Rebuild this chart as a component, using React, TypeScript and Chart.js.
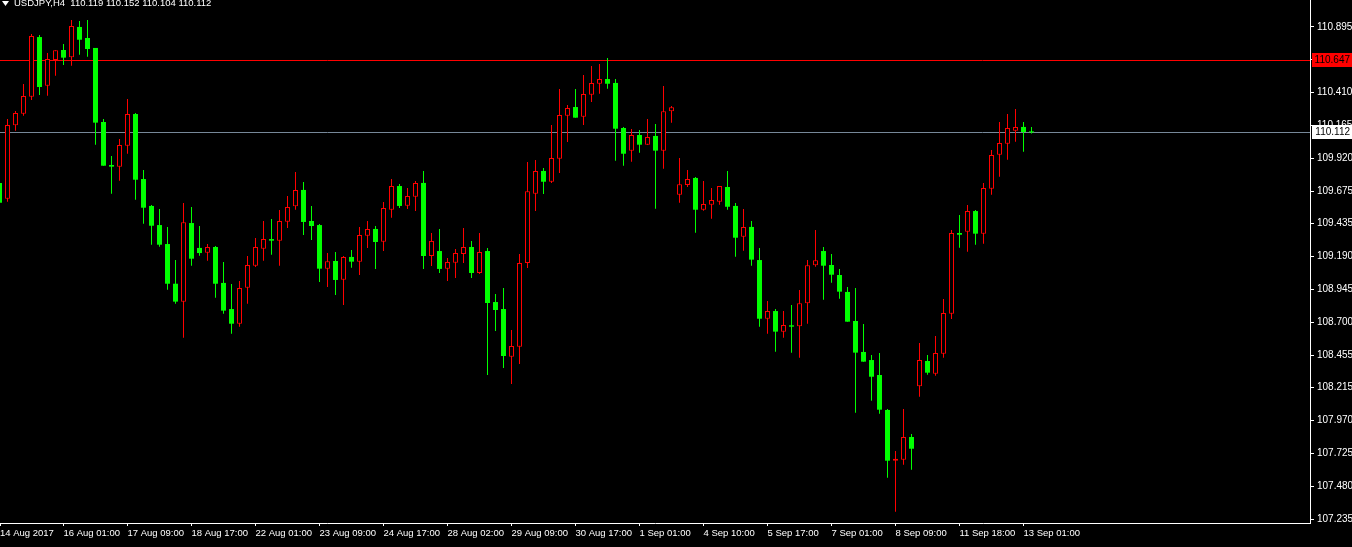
import React, { useEffect, useRef } from 'react';
import { Chart, registerables } from 'chart.js';

Chart.register(...registerables);

// ---- Data (H4 candles) ----
const opens = [
  109.736, 109.619, 110.164, 110.250, 110.377, 110.820, 110.459, 110.650, 110.724, 110.670,
  110.895, 110.813, 110.739, 110.189, 109.869, 109.857, 110.013, 110.248, 109.765, 109.565,
  109.423, 109.282, 108.987, 108.854, 109.438, 109.253, 109.218, 109.260, 108.993, 108.799,
  108.690, 108.958, 109.121, 109.247, 109.319, 109.307, 109.448, 109.562, 109.684, 109.453,
  109.423, 109.099, 109.156, 109.017, 109.186, 109.151, 109.344, 109.394, 109.299, 109.537,
  109.713, 109.567, 109.634, 109.736, 109.193, 109.230, 109.099, 109.143, 109.208, 109.260,
  109.067, 109.230, 108.851, 108.799, 108.445, 108.519, 109.141, 109.656, 109.825, 109.745,
  109.916, 110.236, 110.300, 110.228, 110.392, 110.473, 110.508, 110.479, 110.144, 109.976,
  110.092, 110.020, 110.085, 109.976, 110.268, 109.649, 109.721, 109.773, 109.537, 109.574,
  109.597, 109.706, 109.565, 109.336, 109.409, 109.163, 108.727, 108.784, 108.631, 108.678,
  108.671, 108.842, 109.124, 109.230, 109.126, 109.052, 108.926, 108.710, 108.480, 108.420,
  108.309, 108.049, 107.672, 107.680, 107.848, 108.225, 108.413, 108.318, 108.467, 108.764,
  109.364, 109.374, 109.527, 109.359, 109.693, 109.946, 110.028, 110.124, 110.152, 110.119,
];
const highs = [
  109.758, 110.211, 110.271, 110.471, 110.843, 110.835, 110.702, 110.722, 110.768, 110.947,
  110.939, 110.947, 110.739, 110.211, 109.936, 110.062, 110.360, 110.256, 109.832, 109.572,
  109.542, 109.409, 109.163, 109.587, 109.557, 109.416, 109.282, 109.267, 109.149, 108.985,
  109.007, 109.193, 109.327, 109.453, 109.468, 109.535, 109.639, 109.817, 109.743, 109.565,
  109.431, 109.215, 109.223, 109.193, 109.238, 109.409, 109.453, 109.416, 109.594, 109.765,
  109.728, 109.698, 109.750, 109.825, 109.364, 109.394, 109.178, 109.245, 109.401, 109.305,
  109.364, 109.253, 108.911, 108.955, 108.643, 109.208, 109.892, 109.906, 109.847, 110.167,
  110.434, 110.315, 110.434, 110.538, 110.605, 110.620, 110.664, 110.508, 110.152, 110.137,
  110.129, 110.211, 110.174, 110.456, 110.308, 109.921, 109.832, 109.780, 109.750, 109.698,
  109.713, 109.825, 109.587, 109.542, 109.453, 109.253, 108.859, 108.799, 108.784, 108.829,
  108.940, 109.163, 109.386, 109.260, 109.208, 109.097, 108.963, 108.955, 108.688, 108.457,
  108.472, 108.056, 107.744, 108.056, 107.870, 108.547, 108.457, 108.599, 108.874, 109.386,
  109.498, 109.572, 109.535, 109.736, 109.981, 110.189, 110.248, 110.285, 110.189, 110.152,
];
const lows = [
  109.572, 109.597, 110.124, 110.236, 110.352, 110.389, 110.384, 110.533, 110.612, 110.607,
  110.689, 110.674, 110.020, 109.864, 109.656, 109.753, 109.953, 109.611, 109.433, 109.277,
  109.262, 108.943, 108.839, 108.586, 109.121, 109.195, 109.158, 108.883, 108.764, 108.616,
  108.668, 108.839, 109.111, 109.158, 109.203, 109.121, 109.401, 109.537, 109.349, 109.312,
  109.000, 108.963, 108.903, 108.829, 109.106, 109.052, 109.253, 109.097, 109.230, 109.478,
  109.550, 109.542, 109.527, 109.097, 109.119, 109.067, 109.007, 109.030, 109.141, 109.030,
  109.059, 108.309, 108.636, 108.361, 108.242, 108.391, 109.104, 109.527, 109.654, 109.736,
  109.810, 110.040, 110.221, 110.167, 110.337, 110.399, 110.436, 109.901, 109.864, 109.894,
  109.961, 110.018, 109.545, 109.842, 110.184, 109.589, 109.706, 109.366, 109.530, 109.470,
  109.574, 109.537, 109.188, 109.233, 109.121, 108.668, 108.616, 108.482, 108.586, 108.475,
  108.437, 108.690, 109.114, 108.868, 108.995, 108.876, 108.705, 108.029, 108.408, 108.118,
  108.021, 107.546, 107.293, 107.642, 107.605, 108.148, 108.311, 108.304, 108.437, 108.725,
  109.255, 109.225, 109.277, 109.285, 109.649, 109.782, 109.909, 110.042, 109.968, 110.104,
];
const closes = [
  109.589, 110.167, 110.256, 110.382, 110.828, 110.449, 110.657, 110.722, 110.667, 110.902,
  110.800, 110.731, 110.184, 109.864, 109.857, 110.018, 110.248, 109.760, 109.552, 109.418,
  109.277, 108.987, 108.854, 109.444, 109.173, 109.215, 109.260, 108.987, 108.787, 108.690,
  108.955, 109.126, 109.260, 109.319, 109.307, 109.453, 109.557, 109.684, 109.446, 109.416,
  109.099, 109.154, 109.015, 109.186, 109.151, 109.349, 109.394, 109.297, 109.550, 109.713,
  109.565, 109.639, 109.736, 109.193, 109.305, 109.097, 109.149, 109.215, 109.260, 109.067,
  109.223, 108.844, 108.792, 108.450, 108.524, 109.141, 109.674, 109.825, 109.745, 109.921,
  110.241, 110.293, 110.221, 110.397, 110.479, 110.508, 110.473, 110.139, 109.953, 110.092,
  110.020, 110.077, 109.976, 110.268, 110.298, 109.726, 109.765, 109.537, 109.580, 109.609,
  109.713, 109.559, 109.329, 109.409, 109.166, 108.727, 108.784, 108.631, 108.680, 108.668,
  108.842, 109.124, 109.161, 109.121, 109.054, 108.928, 108.705, 108.475, 108.408, 108.296,
  108.051, 107.672, 107.687, 107.848, 107.761, 108.420, 108.326, 108.472, 108.770, 109.364,
  109.351, 109.527, 109.359, 109.698, 109.944, 110.033, 110.144, 110.152, 110.114, 110.112,
];

const xTickIndex = [0, 8, 16, 24, 32, 40, 48, 56, 64, 72, 80, 88, 96, 104, 112, 120, 128];
const xTickLabels = [
  '14 Aug 2017', '16 Aug 01:00', '17 Aug 09:00', '18 Aug 17:00', '22 Aug 01:00', '23 Aug 09:00',
  '24 Aug 17:00', '28 Aug 02:00', '29 Aug 09:00', '30 Aug 17:00', '1 Sep 01:00', '4 Sep 10:00',
  '5 Sep 17:00', '7 Sep 01:00', '8 Sep 09:00', '11 Sep 18:00', '13 Sep 01:00',
];
const yTickValues = [
  110.895, 110.65, 110.41, 110.165, 109.92, 109.675, 109.435, 109.19, 108.945, 108.7,
  108.455, 108.215, 107.97, 107.725, 107.48, 107.235,
];

const symbolTitle = 'USDJPY,H4';
const lastQuote = [110.119, 110.152, 110.104, 110.112];
const levelLine = 110.647;
const bidLine = 110.112;

// ---- view ----
const X_MIN = 0.0625;
const X_MAX = 163.8125;
const Y_MIN = 107.2091;
const Y_MAX = 111.0953;

const UP_COLOR = '#ff0000';
const DOWN_COLOR = '#00ff00';
const FONT = "'Liberation Sans Narrow', 'Liberation Sans', Arial, sans-serif";

export default function App() {
  const ref = useRef<HTMLCanvasElement | null>(null);

  useEffect(() => {
    document.body.style.margin = '0';
    document.body.style.background = '#000';
    const canvas = ref.current;
    if (!canvas) return;

    const idx = opens.map((_, i) => i);
    const up = idx.filter((i) => closes[i] >= opens[i]);
    const down = idx.filter((i) => closes[i] < opens[i]);

    const overlay = {
      id: 'mtOverlay',
      beforeDatasetsDraw(chart: any) {
        const { ctx, chartArea, scales } = chart;
        ctx.save();
        const lines: [number, string][] = [
          [bidLine, '#778899'],
          [levelLine, '#ff0000'],
        ];
        for (const [v, c] of lines) {
          const py = Math.round(scales.y.getPixelForValue(v)) + 0.5;
          ctx.strokeStyle = c;
          ctx.lineWidth = 1;
          ctx.beginPath();
          ctx.moveTo(chartArea.left, py);
          ctx.lineTo(chartArea.right, py);
          ctx.stroke();
        }
        ctx.restore();
      },
      afterDraw(chart: any) {
        const { ctx, chartArea, scales, width } = chart;
        ctx.save();
        const boxes: [number, string, string][] = [
          [levelLine, '#ff0000', '#000000'],
          [bidLine, '#ffffff', '#000000'],
        ];
        for (const [v, bg, fg] of boxes) {
          const py = Math.round(scales.y.getPixelForValue(v));
          ctx.fillStyle = bg;
          ctx.fillRect(chartArea.right + 2, py - 7, width - chartArea.right - 2, 14);
          ctx.fillStyle = fg;
          ctx.font = `10px ${FONT}`;
          ctx.textBaseline = 'middle';
          ctx.textAlign = 'right';
          ctx.fillText(v.toFixed(3), width - 2, py + 0.5);
        }
        // title
        ctx.fillStyle = '#ffffff';
        ctx.beginPath();
        ctx.moveTo(2, 1);
        ctx.lineTo(9, 1);
        ctx.lineTo(5.5, 6);
        ctx.closePath();
        ctx.fill();
        ctx.font = `9.5px ${FONT}`;
        ctx.textBaseline = 'alphabetic';
        ctx.textAlign = 'left';
        ctx.fillText(
          `${symbolTitle}  ${lastQuote.map((q) => q.toFixed(3)).join(' ')}`,
          14,
          6
        );
        ctx.restore();
      },
    };

    const chart = new Chart(canvas, {
      type: 'bar',
      data: {
        datasets: [
          {
            label: 'up body',
            data: up.map((i) => ({ x: i, y: [opens[i], closes[i]] })),
            backgroundColor: '#000000',
            borderColor: UP_COLOR,
            borderWidth: 1,
            borderSkipped: false,
            barThickness: 5,
            minBarLength: 1,
            grouped: false,
            inflateAmount: 0,
            order: 0,
          } as any,
          {
            label: 'down body',
            data: down.map((i) => ({ x: i, y: [opens[i], closes[i]] })),
            backgroundColor: DOWN_COLOR,
            borderWidth: 0,
            borderSkipped: false,
            barThickness: 5,
            minBarLength: 1,
            grouped: false,
            inflateAmount: 0,
            order: 0,
          } as any,
          {
            label: 'up wick',
            data: up.map((i) => ({ x: i, y: [lows[i], highs[i]] })),
            backgroundColor: UP_COLOR,
            borderWidth: 0,
            barThickness: 1,
            grouped: false,
            inflateAmount: 0,
            order: 1,
          } as any,
          {
            label: 'down wick',
            data: down.map((i) => ({ x: i, y: [lows[i], highs[i]] })),
            backgroundColor: DOWN_COLOR,
            borderWidth: 0,
            barThickness: 1,
            grouped: false,
            inflateAmount: 0,
            order: 1,
          } as any,
        ],
      },
      options: {
        responsive: false,
        animation: false,
        events: [],
        layout: { padding: 0 },
        plugins: {
          legend: { display: false },
          tooltip: { enabled: false },
          title: { display: false },
        },
        scales: {
          x: {
            type: 'linear',
            min: X_MIN,
            max: X_MAX,
            offset: false,
            bounds: 'data',
            grid: {
              drawOnChartArea: false,
              drawTicks: true,
              tickLength: 3,
              color: '#ffffff',
              tickColor: '#ffffff',
              offset: false,
            },
            border: { display: true, color: '#ffffff', width: 1 },
            ticks: {
              autoSkip: false,
              maxRotation: 0,
              minRotation: 0,
              align: 'start',
              padding: 2,
              color: '#ffffff',
              font: { family: FONT, size: 9.5 },
              callback: (_v: any, index: number) => xTickLabels[index],
            },
            afterBuildTicks: (scale: any) => {
              scale.ticks = xTickIndex.map((i) => ({ value: Math.max(i, X_MIN) }));
            },
            afterFit: (scale: any) => {
              scale.height = 24;
              scale.paddingLeft = 0;
              scale.paddingRight = 0;
            },
          } as any,
          y: {
            type: 'linear',
            position: 'right',
            min: Y_MIN,
            max: Y_MAX,
            bounds: 'data',
            grid: {
              drawOnChartArea: false,
              drawTicks: true,
              tickLength: 4,
              color: '#ffffff',
              tickColor: '#ffffff',
            },
            border: { display: true, color: '#ffffff', width: 1 },
            ticks: {
              autoSkip: false,
              padding: 3,
              color: '#ffffff',
              font: { family: FONT, size: 10 },
              callback: (v: any) => Number(v).toFixed(3),
            },
            afterBuildTicks: (scale: any) => {
              scale.ticks = yTickValues.map((v) => ({ value: v }));
            },
            afterFit: (scale: any) => {
              scale.width = 42;
              scale.paddingTop = 0;
              scale.paddingBottom = 0;
            },
          } as any,
        },
      },
      plugins: [overlay],
    });

    return () => chart.destroy();
  }, []);

  return (
    <canvas
      ref={ref}
      width={1352}
      height={547}
      style={{ display: 'block', width: 1352, height: 547, background: '#000' }}
    />
  );
}
